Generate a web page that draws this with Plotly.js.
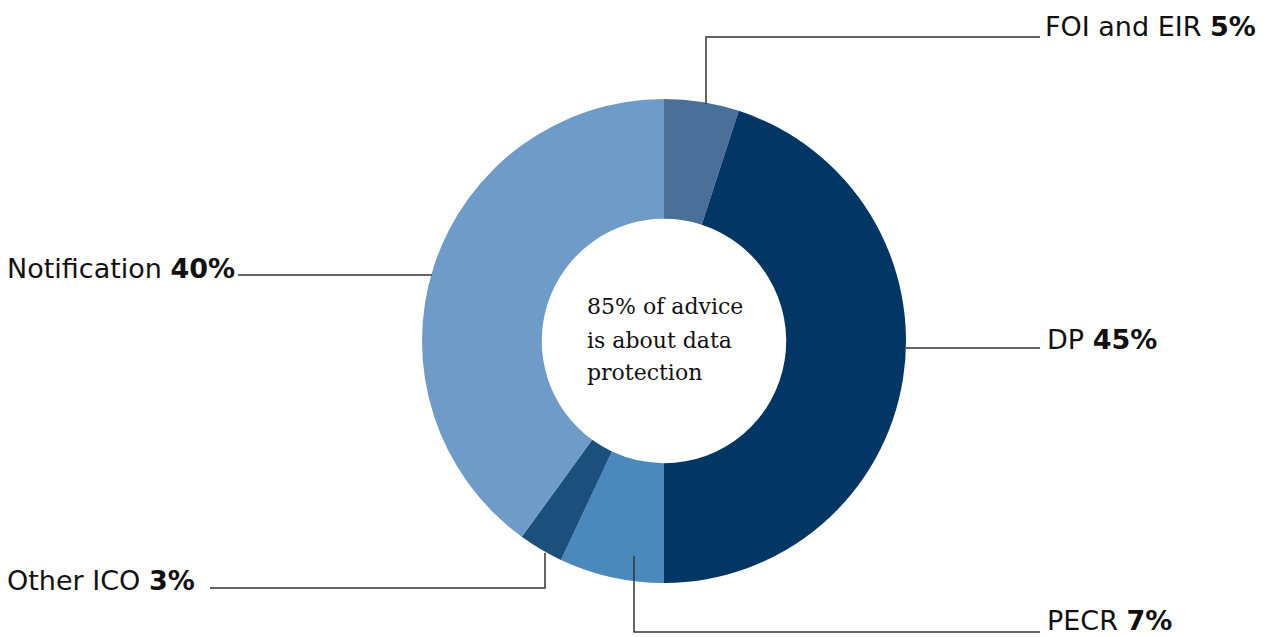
<!DOCTYPE html>
<html><head><meta charset="utf-8">
<script src="https://cdn.plot.ly/plotly-3.0.1.min.js"></script>
<style>html,body{margin:0;padding:0;background:#fff;}#chart{width:1277px;height:637px;}</style>
</head><body><div id="chart"></div>
<script>
const categories = ["FOI and EIR", "DP", "PECR", "Other ICO", "Notification"];
const values = [5, 45, 7, 3, 40];
const colors = ["#4a6f98", "#023665", "#4b89bd", "#1b4f7c", "#6f9bc8"];
const centerText = ["85% of advice", "is about data", "protection"];

const W = 1277, H = 637;
const px = x => x / W, py = y => 1 - y / H;

// label positions (pixels) and leader line routes
const labelPos = [
  {x: 1043, y: 27, anchor: "left"},
  {x: 1045, y: 339, anchor: "left"},
  {x: 1045, y: 620, anchor: "left"},
  {x: 5, y: 580, anchor: "left"},
  {x: 5, y: 268, anchor: "left"}
];
const leaders = [
  [[706,104],[706,37],[1040,37]],
  [[906,348],[1040,348]],
  [[634,556],[634,632],[1040,632]],
  [[545,553],[545,588],[210,588]],
  [[432,275],[238,275]]
];

const cx = 664, cy = 341, R = 242;
const trace = {
  type: "pie",
  labels: categories,
  values: values,
  sort: false,
  direction: "clockwise",
  rotation: 0,
  hole: 0.505,
  textinfo: "none",
  hoverinfo: "label+percent",
  marker: {colors: colors, line: {width: 0}},
  domain: {x: [px(cx - R), px(cx + R)], y: [py(cy + R), py(cy - R)]},
  showlegend: false
};

const annotations = categories.map((c, i) => ({
  xref: "paper", yref: "paper",
  x: px(labelPos[i].x), y: py(labelPos[i].y),
  xanchor: labelPos[i].anchor, yanchor: "middle",
  text: c + " <b>" + values[i] + "%</b>",
  showarrow: false,
  font: {family: "DejaVu Sans, Verdana, sans-serif", size: 27, color: "#111"}
}));
centerText.forEach((t, i) => {
  annotations.push({
    xref: "paper", yref: "paper",
    x: px(585), y: py(307 + i * 33),
    xanchor: "left", yanchor: "middle",
    text: t, showarrow: false,
    font: {family: "DejaVu Serif, Georgia, serif", size: 22, color: "#111"}
  });
});

const shapes = leaders.map(pts => ({
  type: "path", xref: "paper", yref: "paper",
  path: pts.map((p, j) => (j ? "L" : "M") + px(p[0]) + "," + py(p[1])).join(" "),
  line: {color: "#333", width: 1.5}
}));

Plotly.newPlot("chart", [trace], {
  width: W, height: H,
  margin: {l: 0, r: 0, t: 0, b: 0},
  paper_bgcolor: "#fff",
  annotations: annotations,
  shapes: shapes
}, {displayModeBar: false});
</script></body></html>
